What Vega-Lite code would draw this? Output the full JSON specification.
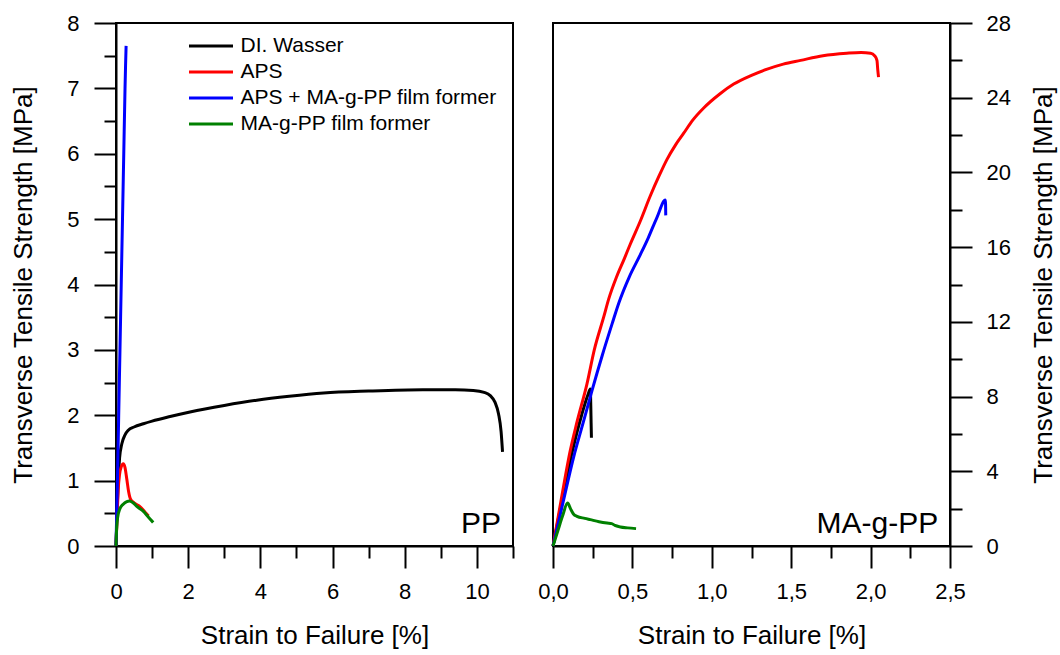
{
  "$schema": "https://vega.github.io/schema/vega-lite/v6.json",
  "padding": {"left": 9, "top": 11, "right": 0, "bottom": 5},
  "background": "white",
  "config": {
    "font": "Liberation Sans",
    "view": {"stroke": "black", "strokeWidth": 2},
    "axis": {
      "grid": false,
      "domainColor": "black", "domainWidth": 2,
      "tickColor": "black", "tickWidth": 2,
      "labelColor": "black", "titleColor": "black",
      "labelFont": "Liberation Sans", "titleFont": "Liberation Sans",
      "labelFontSize": 22, "titleFontSize": 26, "titleFontWeight": "normal",
      "labelFlush": false, "labelOverlap": false
    }
  },
  "datasets": {
    "pp": [
      {"series": "DI. Wasser", "strain": 0, "stress": 0},
      {"series": "DI. Wasser", "strain": 0.03, "stress": 0.5},
      {"series": "DI. Wasser", "strain": 0.06, "stress": 1.0},
      {"series": "DI. Wasser", "strain": 0.1, "stress": 1.35},
      {"series": "DI. Wasser", "strain": 0.16, "stress": 1.56},
      {"series": "DI. Wasser", "strain": 0.25, "stress": 1.7},
      {"series": "DI. Wasser", "strain": 0.34, "stress": 1.77},
      {"series": "DI. Wasser", "strain": 0.5, "stress": 1.82},
      {"series": "DI. Wasser", "strain": 0.76, "stress": 1.87},
      {"series": "DI. Wasser", "strain": 1.0, "stress": 1.91},
      {"series": "DI. Wasser", "strain": 1.5, "stress": 1.98},
      {"series": "DI. Wasser", "strain": 2.05, "stress": 2.05},
      {"series": "DI. Wasser", "strain": 3.0, "stress": 2.15},
      {"series": "DI. Wasser", "strain": 3.9, "stress": 2.23},
      {"series": "DI. Wasser", "strain": 4.8, "stress": 2.29},
      {"series": "DI. Wasser", "strain": 5.75, "stress": 2.34},
      {"series": "DI. Wasser", "strain": 7.0, "stress": 2.37},
      {"series": "DI. Wasser", "strain": 8.5, "stress": 2.39},
      {"series": "DI. Wasser", "strain": 9.4, "stress": 2.39},
      {"series": "DI. Wasser", "strain": 9.9, "stress": 2.38},
      {"series": "DI. Wasser", "strain": 10.2, "stress": 2.35},
      {"series": "DI. Wasser", "strain": 10.37, "stress": 2.3},
      {"series": "DI. Wasser", "strain": 10.5, "stress": 2.2},
      {"series": "DI. Wasser", "strain": 10.6, "stress": 2.02},
      {"series": "DI. Wasser", "strain": 10.67, "stress": 1.75},
      {"series": "DI. Wasser", "strain": 10.71, "stress": 1.44},
      {"series": "APS", "strain": 0, "stress": 0},
      {"series": "APS", "strain": 0.03, "stress": 0.45},
      {"series": "APS", "strain": 0.06, "stress": 0.85},
      {"series": "APS", "strain": 0.1, "stress": 1.1},
      {"series": "APS", "strain": 0.15, "stress": 1.22},
      {"series": "APS", "strain": 0.2, "stress": 1.26},
      {"series": "APS", "strain": 0.25, "stress": 1.2},
      {"series": "APS", "strain": 0.3, "stress": 1.02},
      {"series": "APS", "strain": 0.35, "stress": 0.83},
      {"series": "APS", "strain": 0.4, "stress": 0.72},
      {"series": "APS", "strain": 0.5, "stress": 0.66},
      {"series": "APS", "strain": 0.67, "stress": 0.6},
      {"series": "APS", "strain": 0.8, "stress": 0.52},
      {"series": "APS", "strain": 0.9, "stress": 0.46},
      {"series": "APS + MA-g-PP film former", "strain": 0, "stress": 0},
      {"series": "APS + MA-g-PP film former", "strain": 0.04, "stress": 1},
      {"series": "APS + MA-g-PP film former", "strain": 0.075, "stress": 2},
      {"series": "APS + MA-g-PP film former", "strain": 0.11, "stress": 3},
      {"series": "APS + MA-g-PP film former", "strain": 0.145, "stress": 4},
      {"series": "APS + MA-g-PP film former", "strain": 0.18, "stress": 5},
      {"series": "APS + MA-g-PP film former", "strain": 0.215, "stress": 6},
      {"series": "APS + MA-g-PP film former", "strain": 0.25, "stress": 7},
      {"series": "APS + MA-g-PP film former", "strain": 0.265, "stress": 7.35},
      {"series": "APS + MA-g-PP film former", "strain": 0.28, "stress": 7.65},
      {"series": "MA-g-PP film former", "strain": 0, "stress": 0},
      {"series": "MA-g-PP film former", "strain": 0.02, "stress": 0.3},
      {"series": "MA-g-PP film former", "strain": 0.05, "stress": 0.45},
      {"series": "MA-g-PP film former", "strain": 0.1, "stress": 0.56},
      {"series": "MA-g-PP film former", "strain": 0.2, "stress": 0.64},
      {"series": "MA-g-PP film former", "strain": 0.3, "stress": 0.68},
      {"series": "MA-g-PP film former", "strain": 0.37, "stress": 0.69},
      {"series": "MA-g-PP film former", "strain": 0.5, "stress": 0.65},
      {"series": "MA-g-PP film former", "strain": 0.57, "stress": 0.61},
      {"series": "MA-g-PP film former", "strain": 0.76, "stress": 0.53},
      {"series": "MA-g-PP film former", "strain": 0.9, "stress": 0.44},
      {"series": "MA-g-PP film former", "strain": 1.03, "stress": 0.36}
    ],
    "mapp": [
      {"series": "DI. Wasser", "strain": 0, "stress": 0},
      {"series": "DI. Wasser", "strain": 0.06, "stress": 2.6},
      {"series": "DI. Wasser", "strain": 0.12, "stress": 5.0},
      {"series": "DI. Wasser", "strain": 0.18, "stress": 7.0},
      {"series": "DI. Wasser", "strain": 0.22, "stress": 8.1},
      {"series": "DI. Wasser", "strain": 0.235, "stress": 8.4},
      {"series": "DI. Wasser", "strain": 0.238, "stress": 7.5},
      {"series": "DI. Wasser", "strain": 0.24, "stress": 6.6},
      {"series": "DI. Wasser", "strain": 0.242, "stress": 5.8},
      {"series": "APS", "strain": 0, "stress": 0},
      {"series": "APS", "strain": 0.05, "stress": 2.4},
      {"series": "APS", "strain": 0.109, "stress": 5.12},
      {"series": "APS", "strain": 0.15, "stress": 6.6},
      {"series": "APS", "strain": 0.214, "stress": 8.68},
      {"series": "APS", "strain": 0.26, "stress": 10.5},
      {"series": "APS", "strain": 0.319, "stress": 12.25},
      {"series": "APS", "strain": 0.351, "stress": 13.23},
      {"series": "APS", "strain": 0.4, "stress": 14.4},
      {"series": "APS", "strain": 0.45, "stress": 15.4},
      {"series": "APS", "strain": 0.487, "stress": 16.17},
      {"series": "APS", "strain": 0.55, "stress": 17.4},
      {"series": "APS", "strain": 0.613, "stress": 18.75},
      {"series": "APS", "strain": 0.67, "stress": 19.85},
      {"series": "APS", "strain": 0.718, "stress": 20.7},
      {"series": "APS", "strain": 0.77, "stress": 21.45},
      {"series": "APS", "strain": 0.823, "stress": 22.1},
      {"series": "APS", "strain": 0.88, "stress": 22.8},
      {"series": "APS", "strain": 0.949, "stress": 23.45},
      {"series": "APS", "strain": 1.05, "stress": 24.2},
      {"series": "APS", "strain": 1.138, "stress": 24.73},
      {"series": "APS", "strain": 1.25, "stress": 25.2},
      {"series": "APS", "strain": 1.349, "stress": 25.53},
      {"series": "APS", "strain": 1.45, "stress": 25.8},
      {"series": "APS", "strain": 1.559, "stress": 26.0},
      {"series": "APS", "strain": 1.7, "stress": 26.25},
      {"series": "APS", "strain": 1.85, "stress": 26.38},
      {"series": "APS", "strain": 1.94, "stress": 26.42},
      {"series": "APS", "strain": 2.0, "stress": 26.38},
      {"series": "APS", "strain": 2.025, "stress": 26.25},
      {"series": "APS", "strain": 2.04, "stress": 26.0},
      {"series": "APS", "strain": 2.045, "stress": 25.5},
      {"series": "APS", "strain": 2.05, "stress": 25.1},
      {"series": "APS + MA-g-PP film former", "strain": 0, "stress": 0},
      {"series": "APS + MA-g-PP film former", "strain": 0.065, "stress": 2.4},
      {"series": "APS + MA-g-PP film former", "strain": 0.13, "stress": 4.76},
      {"series": "APS + MA-g-PP film former", "strain": 0.19, "stress": 6.6},
      {"series": "APS + MA-g-PP film former", "strain": 0.246, "stress": 8.33},
      {"series": "APS + MA-g-PP film former", "strain": 0.31, "stress": 10.2},
      {"series": "APS + MA-g-PP film former", "strain": 0.372, "stress": 11.89},
      {"series": "APS + MA-g-PP film former", "strain": 0.414, "stress": 13.0},
      {"series": "APS + MA-g-PP film former", "strain": 0.48, "stress": 14.4},
      {"series": "APS + MA-g-PP film former", "strain": 0.55, "stress": 15.6},
      {"series": "APS + MA-g-PP film former", "strain": 0.6, "stress": 16.5},
      {"series": "APS + MA-g-PP film former", "strain": 0.655, "stress": 17.6},
      {"series": "APS + MA-g-PP film former", "strain": 0.708, "stress": 18.52},
      {"series": "APS + MA-g-PP film former", "strain": 0.71, "stress": 17.7},
      {"series": "MA-g-PP film former", "strain": 0, "stress": 0},
      {"series": "MA-g-PP film former", "strain": 0.03, "stress": 0.8},
      {"series": "MA-g-PP film former", "strain": 0.06, "stress": 1.6},
      {"series": "MA-g-PP film former", "strain": 0.092, "stress": 2.3},
      {"series": "MA-g-PP film former", "strain": 0.11, "stress": 2.0},
      {"series": "MA-g-PP film former", "strain": 0.13, "stress": 1.7},
      {"series": "MA-g-PP film former", "strain": 0.151, "stress": 1.59},
      {"series": "MA-g-PP film former", "strain": 0.2, "stress": 1.48},
      {"series": "MA-g-PP film former", "strain": 0.235, "stress": 1.41},
      {"series": "MA-g-PP film former", "strain": 0.29, "stress": 1.3},
      {"series": "MA-g-PP film former", "strain": 0.34, "stress": 1.23},
      {"series": "MA-g-PP film former", "strain": 0.37, "stress": 1.2},
      {"series": "MA-g-PP film former", "strain": 0.39, "stress": 1.1},
      {"series": "MA-g-PP film former", "strain": 0.424, "stress": 1.02},
      {"series": "MA-g-PP film former", "strain": 0.47, "stress": 0.97},
      {"series": "MA-g-PP film former", "strain": 0.523, "stress": 0.93}
    ]
  },
  "spacing": 40,
  "bounds": "flush",
  "resolve": {"scale": {"color": "independent"}},
  "hconcat": [
    {
      "width": 397,
      "height": 523,
      "layer": [
        {
          "data": {"name": "pp"},
          "mark": {"type": "line", "strokeWidth": 3, "interpolate": "monotone"},
          "encoding": {
            "x": {"field": "strain", "type": "quantitative",
                  "scale": {"domain": [0, 11], "nice": false, "zero": false},
                  "axis": {"orient": "bottom", "values": [0, 2, 4, 6, 8, 10], "tickSize": 22, "labelPadding": 13,
                           "title": "Strain to Failure [%]", "titlePadding": 20}},
            "y": {"field": "stress", "type": "quantitative",
                  "scale": {"domain": [0, 8], "nice": false},
                  "axis": {"orient": "left", "values": [0, 1, 2, 3, 4, 5, 6, 7, 8], "tickSize": 22, "labelPadding": 15,
                           "title": "Transverse Tensile Strength [MPa]", "titlePadding": 30}},
            "color": {"field": "series", "type": "nominal",
                      "scale": {"domain": ["DI. Wasser", "APS", "APS + MA-g-PP film former", "MA-g-PP film former"],
                                "range": ["#000000", "#ff0000", "#0000ff", "#008000"]},
                      "legend": {"orient": "none", "legendX": 71.5, "legendY": 13, "title": null,
                                 "symbolType": "stroke", "symbolSize": 1936, "symbolStrokeWidth": 3,
                                 "labelFontSize": 21, "labelFont": "Liberation Sans", "labelColor": "black",
                                 "labelOffset": 6, "labelLimit": 500, "clipHeight": 20, "rowPadding": 5, "padding": 0}}
          }
        },
        {
          "data": {"name": "pp"},
          "mark": {"type": "line", "opacity": 0},
          "encoding": {
            "detail": {"field": "series"},
            "x": {"field": "strain", "type": "quantitative",
                  "scale": {"domain": [0, 11], "nice": false, "zero": false},
                  "axis": {"orient": "bottom", "values": [1, 3, 5, 7, 9, 11], "tickSize": 12, "labels": false, "title": null, "domain": false}},
            "y": {"field": "stress", "type": "quantitative",
                  "scale": {"domain": [0, 8], "nice": false},
                  "axis": {"orient": "left", "values": [0.5, 1.5, 2.5, 3.5, 4.5, 5.5, 6.5, 7.5], "tickSize": 12, "labels": false, "title": null, "domain": false}}
          }
        },
        {
          "data": {"values": [{"label": "PP"}]},
          "mark": {"type": "text", "align": "right", "baseline": "alphabetic", "fontSize": 30, "font": "Liberation Sans", "color": "black"},
          "encoding": {
            "x": {"datum": 10.67, "type": "quantitative", "axis": null},
            "y": {"datum": 0.196, "type": "quantitative", "axis": null},
            "text": {"field": "label"}
          }
        }
      ],
      "resolve": {"axis": {"x": "independent", "y": "independent"}}
    },
    {
      "width": 397,
      "height": 523,
      "layer": [
        {
          "data": {"name": "mapp"},
          "mark": {"type": "line", "strokeWidth": 3, "interpolate": "monotone"},
          "encoding": {
            "x": {"field": "strain", "type": "quantitative",
                  "scale": {"domain": [0, 2.5], "nice": false, "zero": false},
                  "axis": {"orient": "bottom", "values": [0, 0.5, 1, 1.5, 2, 2.5], "tickSize": 22, "labelPadding": 13,
                           "labelExpr": "replace(format(datum.value, '.1f'), '.', ',')",
                           "title": "Strain to Failure [%]", "titlePadding": 20}},
            "y": {"field": "stress", "type": "quantitative",
                  "scale": {"domain": [0, 28], "nice": false},
                  "axis": {"orient": "right", "values": [0, 4, 8, 12, 16, 20, 24, 28], "tickSize": 22, "labelPadding": 14,
                           "title": "Transverse Tensile Strength [MPa]", "titlePadding": 20,
                           "titleAngle": 270, "titleBaseline": "top"}},
            "color": {"field": "series", "type": "nominal",
                      "scale": {"domain": ["DI. Wasser", "APS", "APS + MA-g-PP film former", "MA-g-PP film former"],
                                "range": ["#000000", "#ff0000", "#0000ff", "#008000"]},
                      "legend": null}
          }
        },
        {
          "data": {"name": "mapp"},
          "mark": {"type": "line", "opacity": 0},
          "encoding": {
            "detail": {"field": "series"},
            "x": {"field": "strain", "type": "quantitative",
                  "scale": {"domain": [0, 2.5], "nice": false, "zero": false},
                  "axis": {"orient": "bottom", "values": [0.25, 0.75, 1.25, 1.75, 2.25], "tickSize": 12, "labels": false, "title": null, "domain": false}},
            "y": {"field": "stress", "type": "quantitative",
                  "scale": {"domain": [0, 28], "nice": false},
                  "axis": {"orient": "right", "values": [2, 6, 10, 14, 18, 22, 26], "tickSize": 12, "labels": false, "title": null, "domain": false}}
          }
        },
        {
          "data": {"values": [{"label": "MA-g-PP"}]},
          "mark": {"type": "text", "align": "right", "baseline": "alphabetic", "fontSize": 30, "font": "Liberation Sans", "color": "black"},
          "encoding": {
            "x": {"datum": 2.426, "type": "quantitative", "axis": null},
            "y": {"datum": 0.685, "type": "quantitative", "axis": null},
            "text": {"field": "label"}
          }
        }
      ],
      "resolve": {"axis": {"x": "independent", "y": "independent"}}
    }
  ]
}
